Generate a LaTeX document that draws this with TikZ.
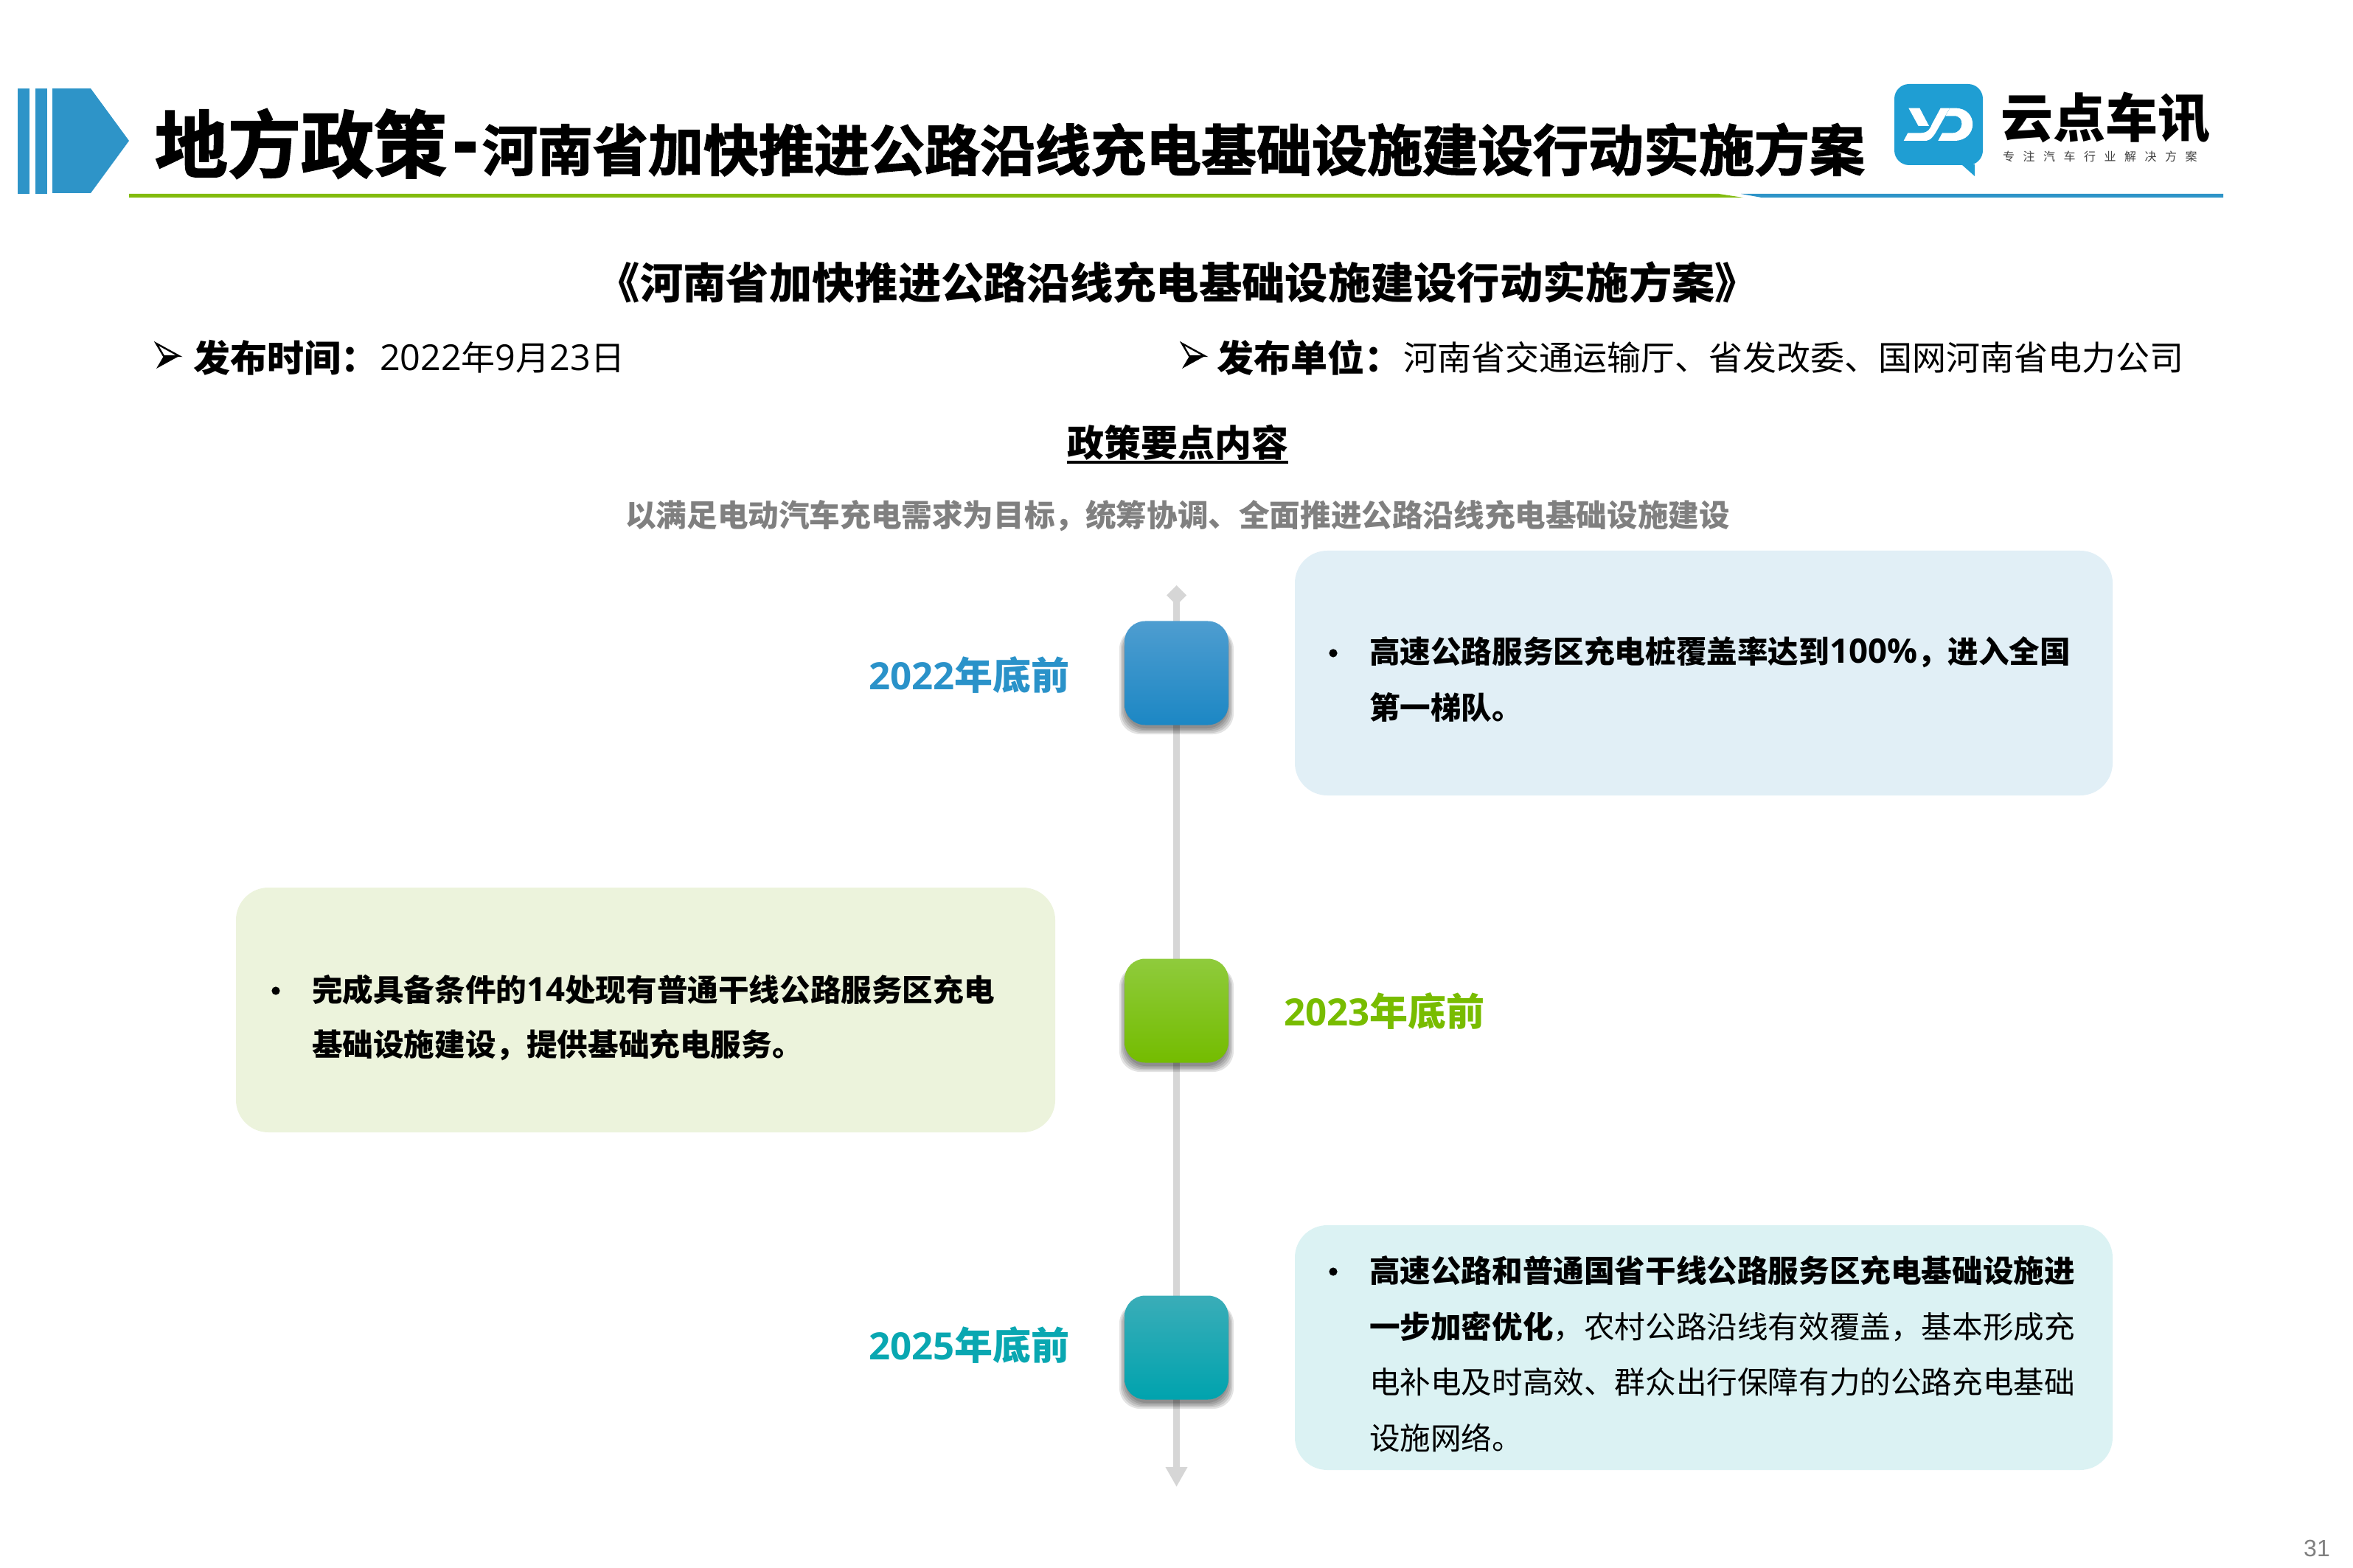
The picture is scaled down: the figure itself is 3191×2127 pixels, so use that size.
\documentclass[tikz,border=0pt]{standalone}
\usepackage{fontspec}
\setmainfont{Noto Sans CJK SC}
\newfontfamily\heavyfont[FakeBold=2]{Noto Sans CJK SC Bold}
\newfontfamily\digitfont{Open Sans}
\newfontfamily\pagefont{Liberation Sans}
\usetikzlibrary{arrows.meta}

\definecolor{bannerblue}{HTML}{2E94C8}
\definecolor{linegreen}{HTML}{82BB0E}
\definecolor{logoblue}{HTML}{1F9ED3}
\definecolor{yearblue}{HTML}{2A92C9}
\definecolor{yeargreen}{HTML}{78BC00}
\definecolor{yearteal}{HTML}{09A7B1}
\definecolor{axisgray}{HTML}{D6D6D6}
\definecolor{boxblue}{HTML}{E1EFF6}
\definecolor{boxgreen}{HTML}{ECF3DC}
\definecolor{boxteal}{HTML}{DBF2F3}

% text sized in pixels of the page
\newcommand{\pxfont}[1]{\fontsize{\fpeval{#1*0.25}}{\fpeval{#1*0.30}}\selectfont}
\newcommand{\numb}[2]{{\digitfont\pxfont{#1}#2}}

\tikzset{
    txt/.style={inner sep=0pt,outer sep=0pt},
    bullettext/.style={txt,anchor=west,align=left,font=\pxfont{41.6}\bfseries},
    yearsquare/.style={txt,minimum width=35.25pt,minimum height=35.25pt,rounded corners=7pt},
    yearlabel/.style={txt,anchor=west,font=\pxfont{52}\bfseries},
    infobox/.style={rounded corners=11pt},
    dotmark/.style={circle,fill=black,minimum size=2.8pt,inner sep=0pt}
}

\begin{document}
\begin{tikzpicture}[x=0.25pt,y=-0.25pt]
    \useasboundingbox (0,0) rectangle (3191,2127);

    % banner
    \fill[bannerblue] (24,120) rectangle (40,263);
    \fill[bannerblue] (48,120) rectangle (64,263);
    \fill[bannerblue] (71,120) -- (123,120) -- (175,191) -- (123,262) -- (71,262) -- cycle;
    \fill[linegreen] (175,263) -- (2331,263) -- (2364,268) -- (175,268) -- cycle;
    \fill[bannerblue] (2361,263) -- (3015,263) -- (3015,268) -- (2389,268) -- cycle;
    \node[txt,anchor=west,font=\heavyfont\pxfont{99}] (titlea) at (210,195) {地方政策};
    \node[txt,anchor=west,font=\heavyfont\pxfont{75}] (titleb) at (654,203) {河南省加快推进公路沿线充电基础设施建设行动实施方案};
    \fill (617,192) rectangle (645,207);

    % logo
    \fill[logoblue,rounded corners=5pt] (2569,114) rectangle (2689,224);
    \fill[logoblue] (2660,223) -- (2678,239) -- (2678,223) -- cycle;
    \begin{scope}[shift={(2560,105)},scale=0.3333]
        \fill[white] (85,125) -- (130,125) -- (168,198) -- (125,198) -- cycle;
        \fill[white] (215,125) -- (252,125) -- (195,225) .. controls (175,258) and (160,258) .. (150,258)
            -- (65,258) -- (82,226) -- (135,226) .. controls (165,226) and (175,205) .. (180,190) -- cycle;
        \fill[white] (205,258) -- (222,226) -- (265,226) .. controls (310,226) and (315,155) .. (270,157)
            -- (235,157) -- (253,125) -- (275,125) .. controls (370,125) and (370,258) .. (270,258) -- cycle;
    \end{scope}
    \node[txt,anchor=west,font=\pxfont{71}\bfseries] (logoname) at (2713,160) {云点车讯};
    \node[txt,anchor=west,text=black!75,font={\addfontfeature{LetterSpace=72}\pxfont{16}}] (logotag) at (2716,212) {专注汽车行业解决方案};

    % heading lines
    \node[txt,font=\pxfont{58.3}\bfseries] (plan) at (1597,383) {《河南省加快推进公路沿线充电基础设施建设行动实施方案》};
    \foreach \sx in {0,1391} {
        \begin{scope}[xshift=\sx*0.25pt]
            \draw[line width=0.6pt,fill=white] (212,466) -- (243,483) -- (222,483) -- cycle;
            \fill (212,500) -- (243,483) -- (222,483) -- cycle;
        \end{scope}
    }
    \node[txt,anchor=west,font=\pxfont{50}\bfseries] (datekey) at (262,485) {发布时间：};
    \node[txt,anchor=west,font=\pxfont{46}] (dateval) at (515,485) {\numb{48.5}{2022}年\numb{48.5}{9}月\numb{48.5}{23}日};
    \node[txt,anchor=west,font=\pxfont{50}\bfseries] (orgkey) at (1650,485) {发布单位：};
    \node[txt,anchor=west,font=\pxfont{46}] (orgval) at (1903,485) {河南省交通运输厅、省发改委、国网河南省电力公司};
    \node[txt,font=\pxfont{50}\bfseries] (points) at (1597,600) {政策要点内容};
    \draw[line width=1pt] (points.west |- 0,627) -- (points.east |- 0,627);
    \node[txt,text=black!50,font=\pxfont{41.6}\bfseries] (goal) at (1597,700) {以满足电动汽车充电需求为目标，统筹协调、全面推进公路沿线充电基础设施建设};

    % time axis
    \coordinate (axistop) at (1595.5,794);
    \coordinate (axisend) at (1595.5,2017);
    \draw[axisgray,line width=2.25pt,{Diamond[length=6.75pt,width=6.75pt]}-{Triangle[length=6.75pt,width=7pt]}] (axistop) -- (axisend);

    % the three squares, each with a soft shadow
    \foreach \cy/\tc/\mc/\bc/\nm in {913/4E9DD0/2B93CE/1C87C4/sqa,1371/8FCB3C/7CC700/74BC00/sqb,1828/3AADB8/09ACB5/00A3AE/sqc} {
        \foreach \gr in {7,5,...,-1} {
            \fill[black,opacity=0.11,rounded corners=7pt]
                (1525-\gr,\cy-61) rectangle (1666+\gr,\cy+71+5+\gr);
        }
        \definecolor{tcol}{HTML}{\tc}
        \definecolor{mcol}{HTML}{\mc}
        \definecolor{bcol}{HTML}{\bc}
        \node[yearsquare,top color=tcol,middle color=mcol,bottom color=bcol] (\nm) at (1595.5,\cy) {};
    }

    \node[yearlabel,text=yearblue] (yeara) at (1178,916) {\numb{51}{2022}年底前};
    \node[yearlabel,text=yeargreen] (yearb) at (1741,1372) {\numb{51}{2023}年底前};
    \node[yearlabel,text=yearteal] (yearc) at (1178,1825) {\numb{51}{2025}年底前};

    % text boxes
    \fill[infobox,boxblue] (1756,747) rectangle (2865,1079);
    \fill[infobox,boxgreen] (320,1204) rectangle (1431,1536);
    \fill[infobox,boxteal] (1756,1662) rectangle (2865,1994);

    \node[dotmark] (dota) at (1808,886) {};
    \node[bullettext] (texta1) at (1857,885) {高速公路服务区充电桩覆盖率达到\numb{45.6}{100\%}，进入全国};
    \node[bullettext] (texta2) at (1857,960) {第一梯队。};

    \node[dotmark] (dotb) at (374,1344) {};
    \node[bullettext] (textb1) at (423,1343) {完成具备条件的\numb{45.6}{14}处现有普通干线公路服务区充电};
    \node[bullettext] (textb2) at (423,1418) {基础设施建设，提供基础充电服务。};

    \node[dotmark] (dotc) at (1808,1725) {};
    \node[bullettext] (textc1) at (1857,1724) {高速公路和普通国省干线公路服务区充电基础设施进};
    \node[bullettext,font=\pxfont{41.6}] (textc2) at (1857,1800) {\textbf{一步加密优化}，农村公路沿线有效覆盖，基本形成充};
    \node[bullettext,font=\pxfont{41.6}] (textc3) at (1857,1875) {电补电及时高效、群众出行保障有力的公路充电基础};
    \node[bullettext,font=\pxfont{41.6}] (textc4) at (1857,1950) {设施网络。};

    \node[txt,text=black!50,font=\pagefont\pxfont{32}] (pageno) at (3142,2100) {31};
\end{tikzpicture}
\end{document}
